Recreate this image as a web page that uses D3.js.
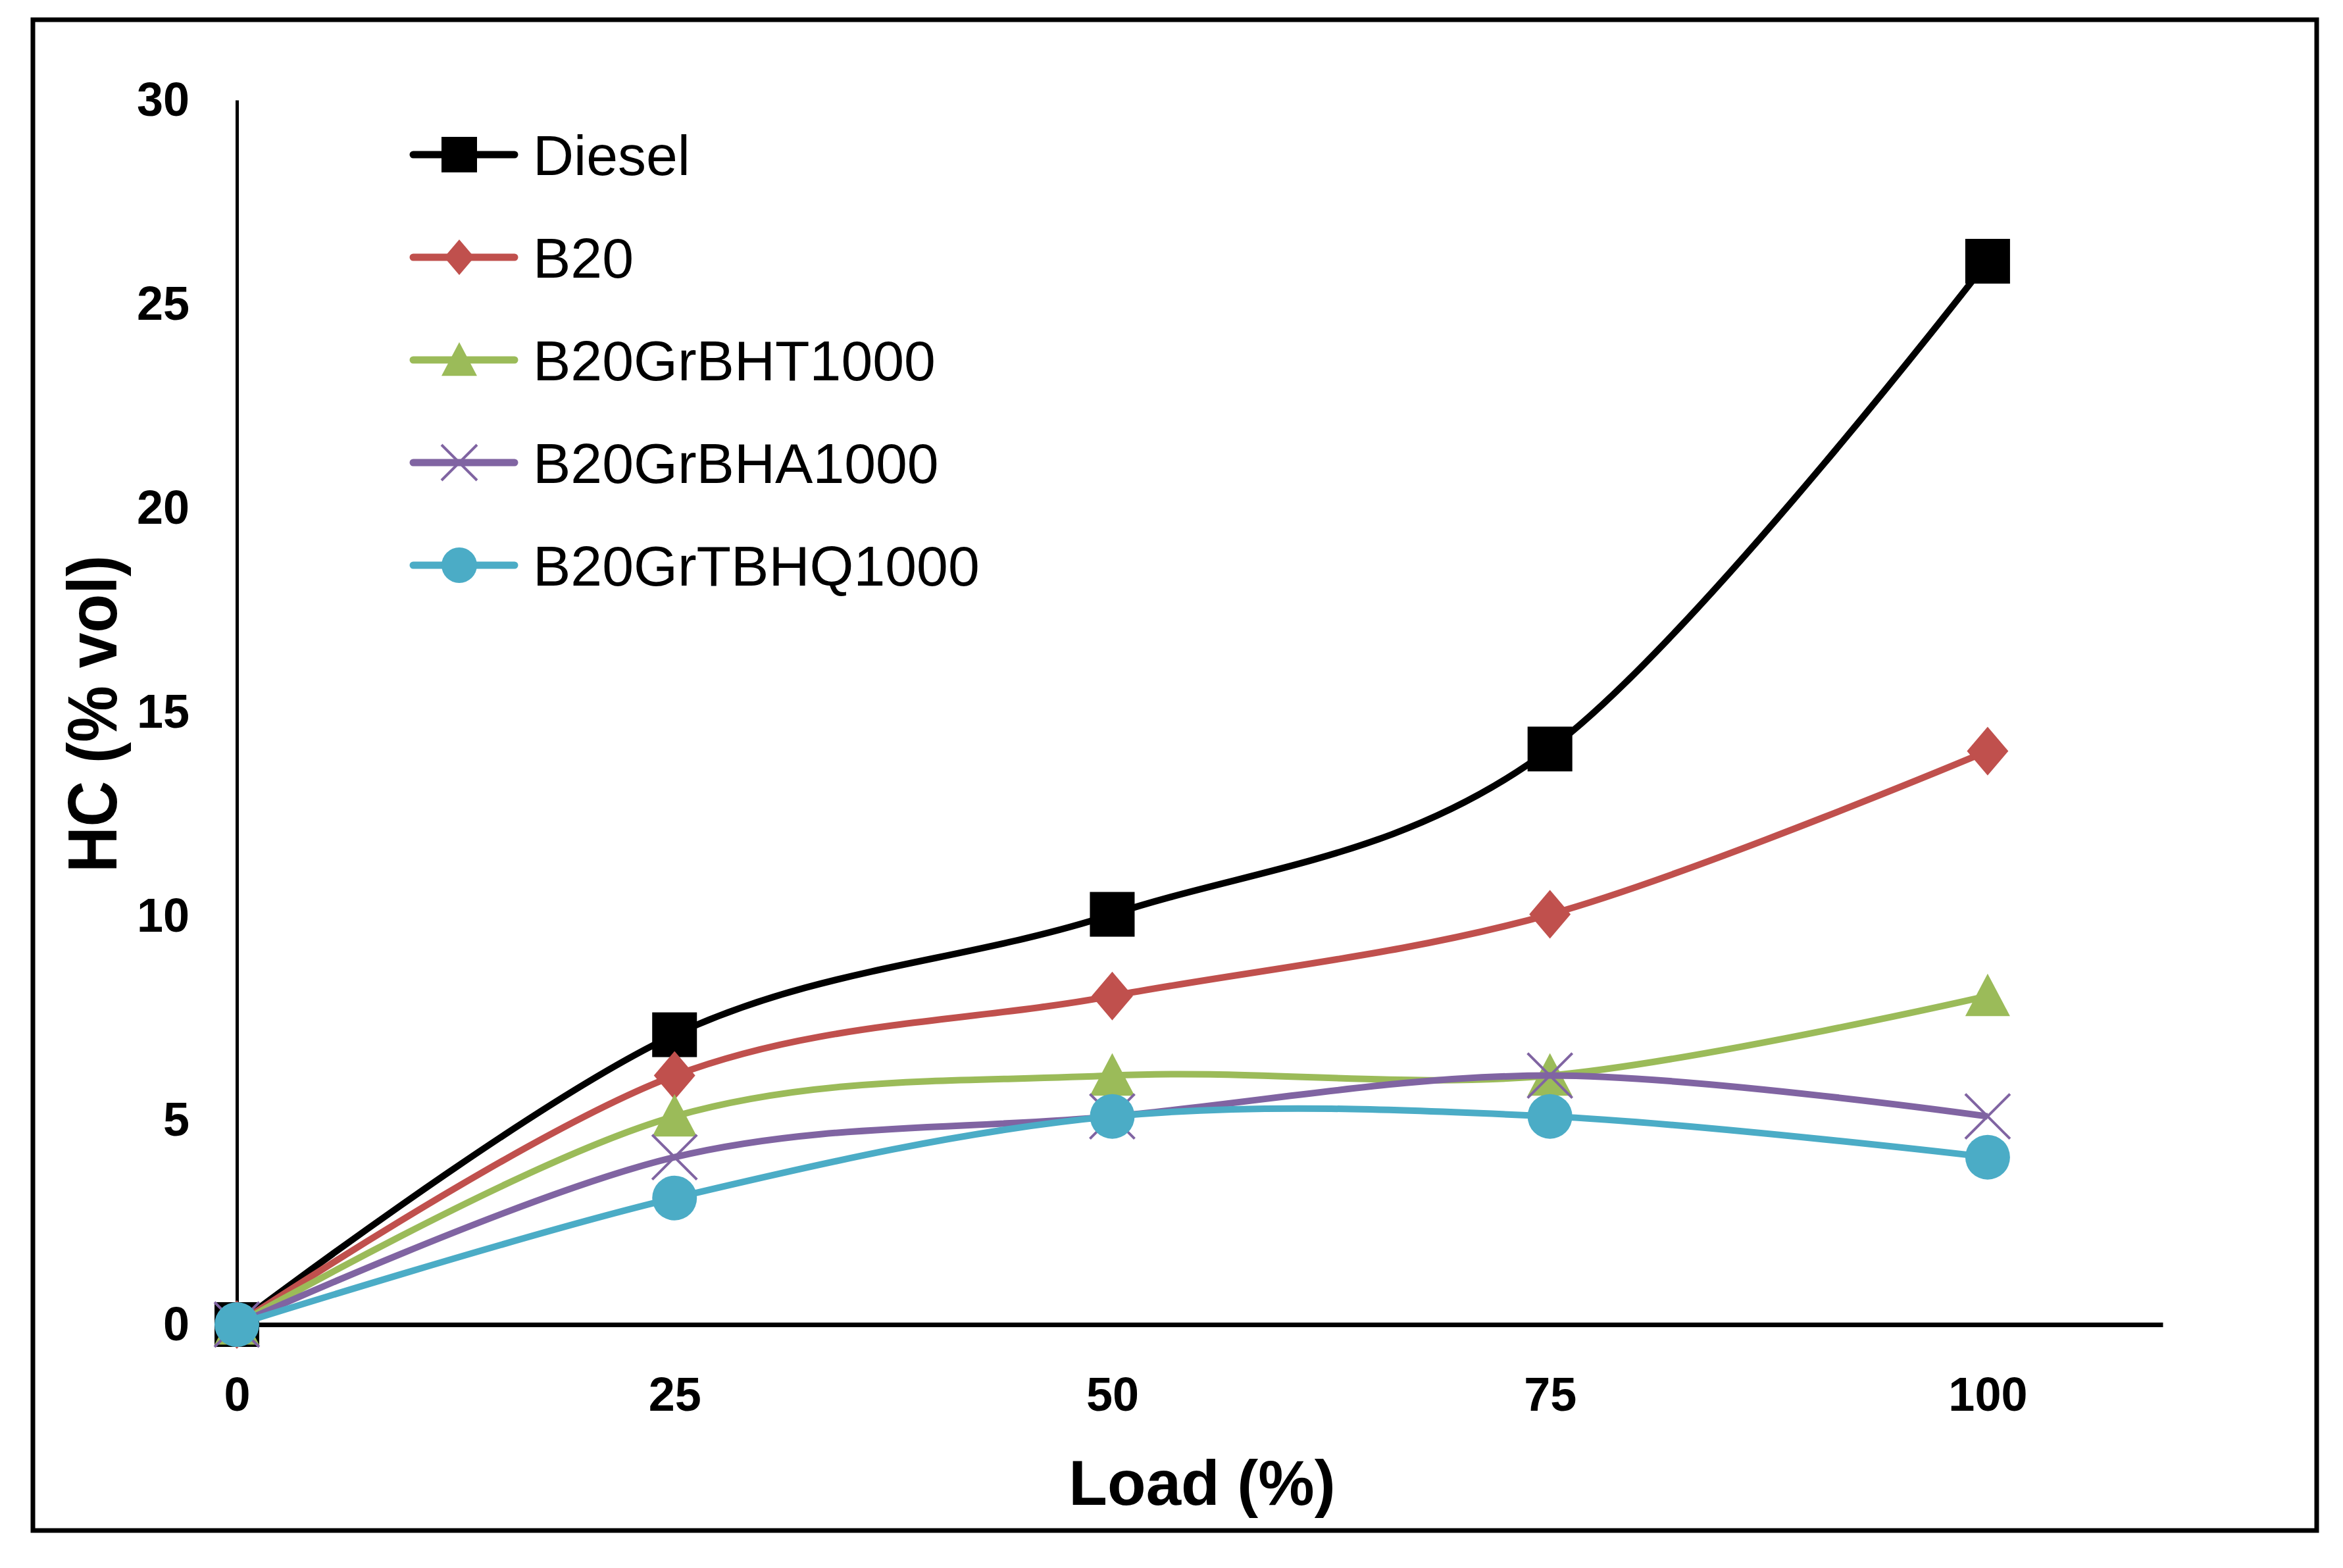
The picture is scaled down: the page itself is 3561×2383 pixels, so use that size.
<!DOCTYPE html>
<html>
<head>
<meta charset="utf-8">
<script src="https://cdn.jsdelivr.net/npm/d3@7"></script>
<style>
  html, body { margin: 0; padding: 0; background: #fff; }
  svg { display: block; }
</style>
</head>
<body>
<svg id="chart"></svg>
<script>
// data
const loads = [0, 25, 50, 75, 100];
const seriesNames = ["Diesel", "B20", "B20GrBHT1000", "B20GrBHA1000", "B20GrTBHQ1000"];
const diesel = [0, 7.1, 10.05, 14.1, 26.05];
const b20 = [0, 6.1, 8.05, 10.05, 14.05];
const bht = [0, 5.1, 6.1, 6.1, 8.05];
const bha = [0, 4.1, 5.1, 6.1, 5.1];
const tbhq = [0, 3.1, 5.1, 5.1, 4.1];
const yTicks = [0, 5, 10, 15, 20, 25, 30];
const xTicks = [0, 25, 50, 75, 100];

const colors = ["#000000", "#C0504D", "#9BBB59", "#8064A2", "#4BACC6"];
const markers = ["square", "diamond", "triangle", "cross", "circle"];
const allValues = [diesel, b20, bht, bha, tbhq];

const W = 3561, H = 2383;
const svg = d3.select("#chart").attr("width", W).attr("height", H);

const x = d3.scaleLinear().domain([0, 110]).range([360, 3287]);
const y = d3.scaleLinear().domain([0, 30]).range([2013, 152]);

const font = "'Liberation Sans', Arial, sans-serif";

// outer frame
svg.append("rect")
    .attr("x", 50).attr("y", 30)
    .attr("width", 3471).attr("height", 2296)
    .attr("fill", "none").attr("stroke", "#000").attr("stroke-width", 7);

// axes
const yAxis = svg.append("g")
    .attr("transform", `translate(${x(0)},0)`)
    .call(d3.axisLeft(y).tickValues(yTicks).tickSize(0).tickPadding(72));
yAxis.select(".domain").attr("stroke", "#000").attr("stroke-width", 5);
yAxis.selectAll("text")
    .attr("font-family", font).attr("font-weight", "bold")
    .attr("font-size", 72).attr("fill", "#000");

const xAxis = svg.append("g")
    .attr("transform", `translate(0,${y(0)})`)
    .call(d3.axisBottom(x).tickValues(xTicks).tickSize(0).tickPadding(80));
xAxis.select(".domain").attr("stroke", "#000").attr("stroke-width", 7);
xAxis.selectAll("text")
    .attr("font-family", font).attr("font-weight", "bold")
    .attr("font-size", 72).attr("fill", "#000");

// axis titles
svg.append("text")
    .attr("x", 1827).attr("y", 2287)
    .attr("text-anchor", "middle")
    .attr("font-family", font).attr("font-weight", "bold")
    .attr("font-size", 96)
    .text("Load (%)");

svg.append("text")
    .attr("transform", "translate(177,1085) rotate(-90) scale(0.91,1)")
    .attr("text-anchor", "middle")
    .attr("font-family", font).attr("font-weight", "bold")
    .attr("font-size", 106)
    .text("HC (% vol)");

// marker shapes
function drawMarker(g, type, cx, cy, s, color) {
    const h = s / 2;
    if (type === "square") {
        g.append("rect").attr("x", cx - h).attr("y", cy - h)
            .attr("width", s).attr("height", s).attr("fill", color);
    } else if (type === "diamond") {
        g.append("path")
            .attr("d", `M${cx},${cy - h}L${cx + h * 0.85},${cy}L${cx},${cy + h}L${cx - h * 0.85},${cy}Z`)
            .attr("fill", color);
    } else if (type === "triangle") {
        g.append("path")
            .attr("d", `M${cx},${cy - h}L${cx + h},${cy + h * 0.9}L${cx - h},${cy + h * 0.9}Z`)
            .attr("fill", color);
    } else if (type === "cross") {
        g.append("path")
            .attr("d", `M${cx - h},${cy - h}L${cx + h},${cy + h}M${cx + h},${cy - h}L${cx - h},${cy + h}`)
            .attr("stroke", color).attr("stroke-width", 4).attr("fill", "none");
    } else {
        g.append("circle").attr("cx", cx).attr("cy", cy).attr("r", h).attr("fill", color);
    }
}

const line = d3.line()
    .x(d => x(d[0]))
    .y(d => y(d[1]))
    .curve(d3.curveCatmullRom.alpha(0));

const plot = svg.append("g");
allValues.forEach((vals, i) => {
    const pts = loads.map((l, j) => [l, vals[j]]);
    const g = plot.append("g");
    g.append("path")
        .attr("d", line(pts))
        .attr("fill", "none")
        .attr("stroke", colors[i])
        .attr("stroke-width", 10)
        .attr("stroke-linejoin", "round");
    const size = markers[i] === "diamond" ? 74 : 68;
    pts.forEach(p => drawMarker(g, markers[i], x(p[0]), y(p[1]), size, colors[i]));
});

// legend
const legend = svg.append("g");
const legendRows = [235, 391, 547, 703, 859];
seriesNames.forEach((name, i) => {
    const g = legend.append("g");
    g.append("line")
        .attr("x1", 628).attr("x2", 782)
        .attr("y1", legendRows[i]).attr("y2", legendRows[i])
        .attr("stroke", colors[i]).attr("stroke-width", 11)
        .attr("stroke-linecap", "round");
    drawMarker(g, markers[i], 698, legendRows[i], 54, colors[i]);
    g.append("text")
        .attr("x", 810).attr("y", legendRows[i] + 31)
        .attr("font-family", font)
        .attr("font-size", 86)
        .attr("fill", "#000")
        .text(name);
});
</script>
</body>
</html>
